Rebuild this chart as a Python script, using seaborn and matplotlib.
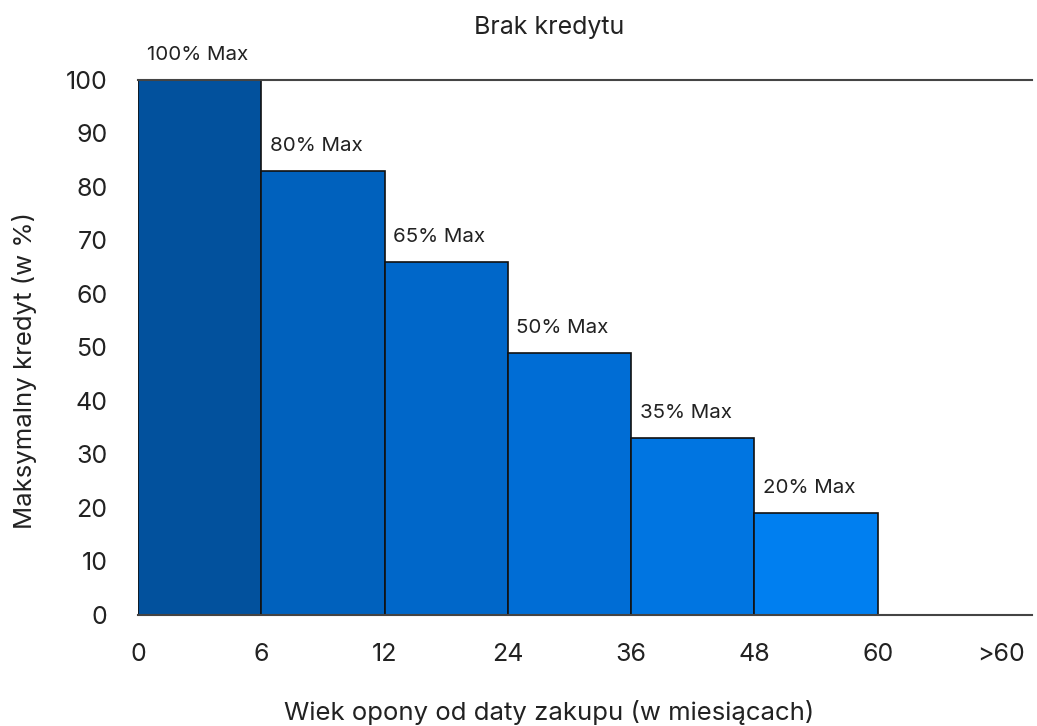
import matplotlib
matplotlib.use("Agg")
import matplotlib.pyplot as plt
import seaborn as sns
import pandas as pd
import numpy as np

# dane
tick_labels = ["0", "6", "12", "24", "36", "48", "60", ">60"]
values = [100, 83, 66, 49, 33, 19]
bar_labels = ["100% Max", "80% Max", "65% Max", "50% Max", "35% Max", "20% Max"]
colors = ["#02519d", "#0061bd", "#0067c9", "#006dd5", "#0075e1", "#007ff0"]

sns.set_theme(style="white")
plt.rcParams["font.family"] = ["Inter", "DejaVu Sans"]

df = pd.DataFrame({
    "pos": np.arange(len(values)) + 0.5,
    "value": values,
    "label": bar_labels,
})

fig = plt.figure(figsize=(10.37, 7.26), dpi=100)
ax = fig.add_axes([0.133, 0.153, 0.862, 0.737])

sns.barplot(data=df, x="pos", y="value", hue="label", palette=colors,
            native_scale=True, width=1, edgecolor="#111111", linewidth=1.2,
            legend=False, ax=ax, saturation=1)

for i, row in df.iterrows():
    ax.text(row["pos"] - 0.43, row["value"] + 3.0, row["label"],
            ha="left", va="bottom", fontsize=14.8, color="#222222", clip_on=False)

ax.set_xlim(0, 7.25)
ax.set_ylim(0, 100)
ax.set_xticks(np.arange(len(tick_labels)))
ax.set_xticklabels(tick_labels)
ax.set_yticks(np.arange(0, 101, 10))
ax.tick_params(axis="x", length=0, pad=20, labelsize=18, colors="#222222")
ax.tick_params(axis="y", length=0, pad=22, labelsize=18, colors="#222222")
ax.set_xlabel("")
ax.set_ylabel("")

for side in ["left", "right"]:
    ax.spines[side].set_visible(False)
for side in ["top", "bottom"]:
    ax.spines[side].set_color("#444444")
    ax.spines[side].set_linewidth(1.5)

fig.text(0.53, 0.962, "Brak kredytu", ha="center", va="center", fontsize=18, color="#222222")
fig.text(0.53, 0.018, "Wiek opony od daty zakupu (w miesiącach)", ha="center", va="center",
         fontsize=18.5, color="#222222")
fig.text(0.024, 0.49, "Maksymalny kredyt (w %)", ha="center", va="center", rotation=90,
         fontsize=18.5, color="#222222")

fig.savefig("out.png", dpi=100)
